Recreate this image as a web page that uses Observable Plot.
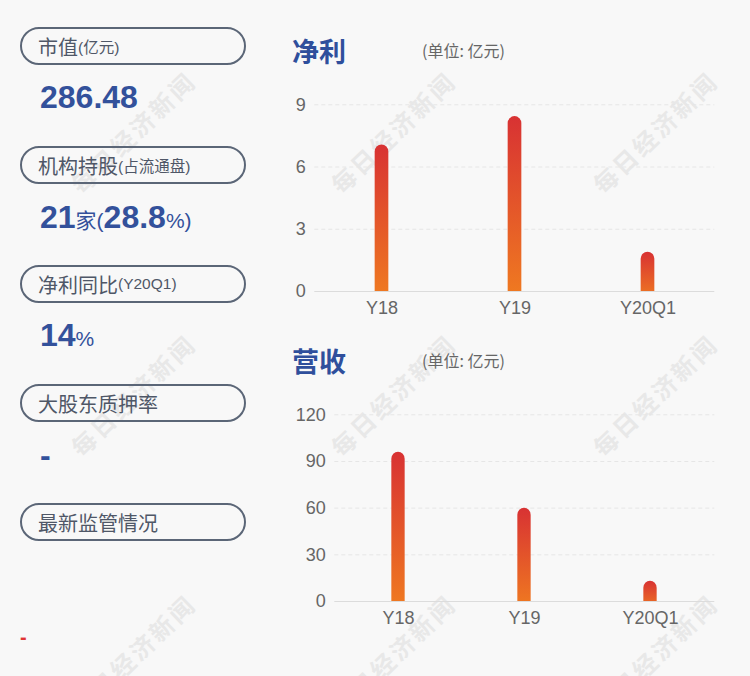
<!DOCTYPE html>
<html>
<head>
<meta charset="utf-8">
<script src="https://cdn.jsdelivr.net/npm/d3@7"></script>
<script src="https://cdn.jsdelivr.net/npm/@observablehq/plot@0.6"></script>
<style>
  html, body { margin: 0; padding: 0; background: #f8f8f8; }
  #root { position: relative; width: 750px; height: 676px; overflow: hidden; background: #f8f8f8;
          font-family: "Liberation Sans", Arial, "Noto Sans CJK SC", sans-serif; }
  .wm { position: absolute; transform: translate(-50%, -50%) rotate(-44deg); white-space: nowrap;
        font-family: "Noto Sans CJK SC", sans-serif; font-weight: 700; font-size: 24px; letter-spacing: 3px;
        color: #e8e8e8; line-height: 1; }
  .pill { position: absolute; left: 20px; width: 226px; height: 38px; box-sizing: border-box;
          border: 2px solid #5b6677; border-radius: 19px; display: flex; align-items: center;
          padding-left: 16px; color: #4f5767; font-family: "Noto Sans CJK SC", sans-serif; font-size: 20px; white-space: nowrap; }
  .pill .sm { font-size: 15.5px; font-family: "Liberation Sans", Arial, "Noto Sans CJK SC", sans-serif; }
  .val { position: absolute; left: 40px; line-height: 1; color: #33519b; font-weight: 700; font-size: 32px; white-space: nowrap;
         font-family: "Liberation Sans", Arial, sans-serif; }
  .val .u { font-weight: 400; font-size: 21px; font-family: "Liberation Sans", Arial, "Noto Sans CJK SC", sans-serif; }
  .title { position: absolute; left: 292px; line-height: 1; font-family: "Noto Sans CJK SC", sans-serif; font-weight: 700;
           font-size: 27px; color: #2f4f9c; }
  .unit { position: absolute; left: 422px; line-height: 1; font-family: "Noto Sans CJK SC", sans-serif; font-size: 16px; color: #666; }
</style>
</head>
<body>
<div id="root"></div>
<script>
// ---- data ----
const categories = ["Y18", "Y19", "Y20Q1"];
const netProfit = [7.06, 8.43, 1.89];
const revenue = [95.9, 59.9, 13.0];
const netTicks = [0, 3, 6, 9];
const revTicks = [0, 30, 60, 90, 120];

const pillLabels = [["市值", "(亿元)"], ["机构持股", "(占流通盘)"], ["净利同比", "(Y20Q1)"], ["大股东质押率", ""], ["最新监管情况", ""]];
const marketCap = "286.48";
const instCount = "21";
const instShare = "28.8";
const profitYoY = "14";
const pledgeRate = "-";
const regulation = "-";
const watermarkText = "每日经济新闻";
const chartTitles = ["净利", "营收"];
const unitText = "(单位: 亿元)";

const root = document.getElementById("root");

// watermarks (behind)
const wmX = [133, 393, 655], wmY = [132, 395, 655];
for (const y of wmY) for (const x of wmX) {
  const d = document.createElement("div");
  d.className = "wm"; d.textContent = watermarkText;
  d.style.left = x + "px"; d.style.top = y + "px";
  root.appendChild(d);
}

// left panel
const pillTops = [27, 146, 265, 384, 503];
pillLabels.forEach(([a, b], i) => {
  const p = document.createElement("div");
  p.className = "pill"; p.style.top = pillTops[i] + "px";
  p.innerHTML = a + (b ? `<span class="sm">${b}</span>` : "");
  root.appendChild(p);
});
function addVal(top, html, extra) {
  const v = document.createElement("div");
  v.className = "val"; v.style.top = top + "px"; v.innerHTML = html;
  if (extra) Object.assign(v.style, extra);
  root.appendChild(v);
}
addVal(80.5, marketCap);
addVal(200.5, `${instCount}<span class="u">家(</span>${instShare}<span class="u">%)</span>`);
addVal(318.5, `${profitYoY}<span class="u">%</span>`);
addVal(438.5, pledgeRate);
addVal(627, regulation, {left: "20px", color: "#e03434", fontSize: "20px"});

// chart titles
[[37, chartTitles[0]], [347, chartTitles[1]]].forEach(([top, t]) => {
  const d = document.createElement("div"); d.className = "title"; d.style.top = top + "px"; d.textContent = t; root.appendChild(d);
});
[42, 352].forEach(top => {
  const d = document.createElement("div"); d.className = "unit"; d.style.top = top + "px"; d.textContent = unitText; root.appendChild(d);
});

function makeChart({values, ticks, id, top, marginLeft}) {
  const width = 460, height = 240, marginRight = 15.7, marginTop = 14.3, marginBottom = 39;
  const band = (width - marginLeft - marginRight) / categories.length;
  const barW = 14, inset = (band - barW) / 2;
  const data = categories.map((c, i) => ({cat: c, v: values[i]}));
  const defs = () => {
    const g = d3.create("svg:defs");
    const lg = g.append("linearGradient").attr("id", id).attr("x1", 0).attr("y1", 0).attr("x2", 0).attr("y2", 1);
    lg.append("stop").attr("offset", "0%").attr("stop-color", "#d83233");
    lg.append("stop").attr("offset", "100%").attr("stop-color", "#f07c20");
    return g.node();
  };
  const svg = Plot.plot({
    width, height, marginLeft, marginRight, marginTop, marginBottom,
    style: {background: "transparent", fontFamily: "'Liberation Sans', Arial, sans-serif", fontSize: "18px", color: "#666", overflow: "visible"},
    x: {domain: categories, padding: 0},
    y: {domain: [ticks[0], ticks[ticks.length - 1]]},
    marks: [
      defs,
      Plot.ruleY(ticks.filter(t => t > 0), {stroke: "#e6e6e6", strokeDasharray: "4,3"}),
      Plot.ruleY([0], {stroke: "#dcdcdc"}),
      Plot.barY(data, {x: "cat", y: "v", fill: `url(#${id})`, rx: 7, insetLeft: inset, insetRight: inset, insetBottom: -10, clip: true}),
      Plot.axisX({tickSize: 0, tickPadding: 9.5, fontSize: 18, label: null, fill: "#666"}),
      Plot.axisY({ticks, tickSize: 0, tickPadding: 9, fontSize: 18, label: null, fill: "#666"})
    ]
  });
  svg.style.top = top + "px";
  svg.style.left = "270px";
  svg.style.position = "absolute";
  root.appendChild(svg);
}
makeChart({values: netProfit, ticks: netTicks, id: "gNet", top: 90, marginLeft: 44.3});
makeChart({values: revenue, ticks: revTicks, id: "gRev", top: 400, marginLeft: 64.3});
</script>
</body>
</html>
